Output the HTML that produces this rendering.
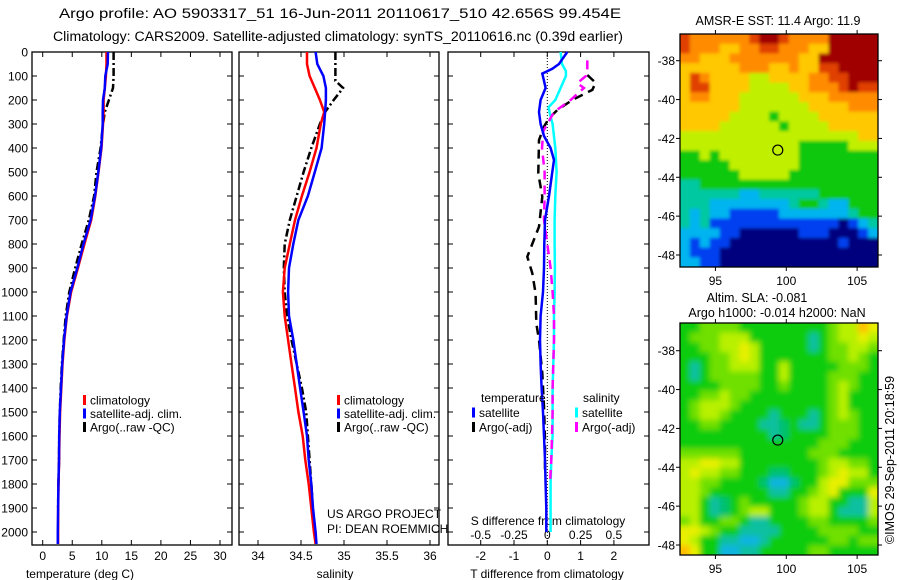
<!DOCTYPE html>
<html><head><meta charset="utf-8"><style>
html,body{margin:0;padding:0;background:#fff;}
svg{display:block;font-family:"Liberation Sans",Arial,sans-serif;}
text{fill:#000;}
</style></head><body>
<svg id="fig" width="900" height="580" viewBox="0 0 900 580" xmlns="http://www.w3.org/2000/svg">
<defs>
<filter id="blurA" x="-5%" y="-5%" width="110%" height="110%"><feGaussianBlur stdDeviation="1.6"/></filter>
<filter id="blurB" x="-5%" y="-5%" width="110%" height="110%"><feGaussianBlur stdDeviation="3"/></filter>
<clipPath id="clipA"><rect x="680" y="34" width="198" height="233"/></clipPath>
<clipPath id="clipB"><rect x="680" y="323" width="198" height="232"/></clipPath>
</defs>
<text x="340" y="18" font-size="13.5" text-anchor="middle" textLength="562" lengthAdjust="spacingAndGlyphs">Argo profile: AO 5903317_51 16-Jun-2011 20110617_510 42.656S 99.454E</text>
<text x="338" y="41" font-size="13.5" text-anchor="middle" textLength="570" lengthAdjust="spacingAndGlyphs">Climatology: CARS2009. Satellite-adjusted climatology: synTS_20110616.nc (0.39d earlier)</text>
<text x="778" y="25" font-size="12.5" text-anchor="middle">AMSR-E SST: 11.4 Argo: 11.9</text>
<text x="757" y="302" font-size="12.5" text-anchor="middle">Altim. SLA: -0.081</text>
<text x="777" y="317" font-size="12.5" text-anchor="middle">Argo h1000: -0.014 h2000: NaN</text>
<text x="0" y="0" font-size="12.5" text-anchor="middle" transform="translate(894,460) rotate(-90)">©IMOS 29-Sep-2011 20:18:59</text>
<text x="80" y="578" font-size="12" text-anchor="middle">temperature (deg C)</text>
<text x="335" y="578" font-size="12" text-anchor="middle">salinity</text>
<text x="547" y="578" font-size="12" text-anchor="middle">T difference from climatology</text>
<text x="548" y="525" font-size="12" text-anchor="middle">S difference from climatology</text>
<text x="327" y="518" font-size="12">US ARGO PROJECT</text>
<text x="327" y="533" font-size="12">PI: DEAN ROEMMICH</text>
</svg>
<script>
// ---- data ----
const depthTicks = [0,100,200,300,400,500,600,700,800,900,1000,1100,1200,1300,1400,1500,1600,1700,1800,1900,2000];
const tempTicks = [0,5,10,15,20,25,30];
const salTicks = [34,34.5,35,35.5,36];
const tDiffTicks = [-2,-1,0,1,2];
const sDiffTicks = [-0.5,-0.25,0,0.25,0.5];
const sDiffTickLabels = ["-0.5","-0.25","0","0.25","0.5"];
const latTicks = [-38,-40,-42,-44,-46,-48];
const lonTicks = [95,100,105];

const climDepth = [0,50,100,150,200,250,300,400,500,600,700,800,900,1000,1100,1200,1300,1400,1500,1600,1700,1800,1900,2000,2050];
const climTemp = [10.8,10.8,10.7,10.5,10.3,10.3,10.2,9.95,9.45,8.9,8.2,7.05,5.95,4.8,4.1,3.65,3.35,3.15,2.95,2.85,2.78,2.68,2.63,2.6,2.6];
const satTemp  = [11.05,11.0,10.6,10.5,10.2,10.15,10.15,9.9,9.4,8.85,8.1,6.9,5.85,4.7,4.05,3.6,3.3,3.1,2.9,2.8,2.75,2.65,2.6,2.55,2.55];
const argoDepth = [0,50,100,150,200,250,300,400,500,600,700,800,900,1000,1100,1200,1300,1400,1500,1600,1700,1800,1900];
const argoTemp = [12.0,12.0,12.0,11.9,11.2,10.5,10.2,9.8,9.1,8.7,7.8,6.6,5.5,4.5,3.9,3.55,3.25,3.05,2.9,2.8,2.75,2.65,2.6];

const climSal = [34.57,34.57,34.6,34.66,34.72,34.77,34.73,34.68,34.6,34.51,34.43,34.37,34.31,34.29,34.31,34.35,34.39,34.43,34.47,34.52,34.55,34.59,34.62,34.65,34.67];
const satSal  = [34.67,34.69,34.76,34.79,34.79,34.78,34.77,34.74,34.66,34.58,34.47,34.41,34.36,34.35,34.36,34.41,34.45,34.49,34.53,34.57,34.59,34.62,34.64,34.67,34.68];
const argoSalDepth = [0,50,120,150,200,250,300,400,500,600,700,800,900,1000,1100,1200,1300,1400,1500,1600,1700,1800,1850];
const argoSal = [34.9,34.9,34.9,34.99,34.88,34.78,34.72,34.62,34.53,34.45,34.37,34.31,34.3,34.31,34.34,34.39,34.45,34.51,34.56,34.58,34.6,34.62,34.63];

const satTDiffDepth = [0,30,50,70,90,120,150,200,250,300,350,400,450,500,600,700,800,900,1000,1100,1200,1300,1400,1500,1600,1700,1800,1900,2000];
const satTDiff = [0.6,0.45,0.35,0.15,-0.15,-0.1,-0.05,-0.2,-0.25,-0.2,-0.1,0.1,0.2,0.15,0.05,-0.07,-0.09,-0.1,-0.13,-0.2,-0.22,-0.2,-0.17,-0.13,-0.1,-0.07,-0.05,-0.03,-0.03];
const argoTDiffDepth = [96,128,158,200,242,276,311,367,506,603,728,853,922,1006,1131,1200,1339,1478,1617,1756];
const argoTDiff = [1.2,1.45,1.35,0.75,0.3,0.05,-0.1,-0.25,-0.27,-0.15,-0.25,-0.6,-0.45,-0.35,-0.33,-0.25,-0.15,-0.1,-0.07,-0.07];
const satSDiffDepth = [0,50,80,100,150,200,230,260,300,400,500,600,700,800,900,1000,1100,1200,1300,1400,1500,1600,1700,1800,1900,2000];
const satSDiff = [0.1,0.11,0.14,0.14,0.1,0.06,0.01,0.02,0.04,0.06,0.07,0.06,0.055,0.055,0.057,0.055,0.05,0.05,0.045,0.04,0.04,0.04,0.03,0.025,0.025,0.025];
const argoSDiffDepth = [35,70,100,130,150,200,250,300,330,400,500,600,700,800,900,1000,1100,1200,1300,1400,1500,1600,1700,1800];
const argoSDiff = [0.3,0.3,0.29,0.225,0.275,0.175,0.05,0,-0.03,-0.04,-0.02,-0.02,-0.025,0,0.025,0.04,0.05,0.05,0.045,0.04,0.04,0.035,0.03,0.02];

const sstGrid = [
"87777778998777799999","87776677887776699999","77666777777766999999","66666677766766889999",
"68766665566667788999","68866665555667778988","67766655555566677777","66666655555556666777",
"66666555545555666666","66665555554555566666","55555555555555555566","55555555555544444555",
"44545555555544444444","44444555555544444444","44444455555444444444","33444444444444444444",
"33333322333333444444","33322222222344322444","32322111112222222344","32311111111111110123",
"22221100000011100012","21211000000000001000","21110000000000000000","22110000000000000000"];
const sstPalette = ["#00007f","#0040f0","#00b4f0","#00c8a0","#10c810","#c0f000","#ffc800","#ff8c00","#e04000","#a00000"];
const slaGrid = [
"33444433333333345576","34445553333331345565","33445565333331344554","33344565333333344543",
"31344555335333334443","31344444335333344433","33334444334333345433","33445443333333345333",
"34555433333333345333","34554333313331345433","33443333112311344433","33333333312333344433",
"33333333333333444333","44444433333334443333","55665533333333455443","56554433322333456553",
"55443333200233566444","55433333311334563336","55312343333345533115","55312345533345531115",
"45334431133334433334","66543311113333444433","65331100133333344344","76330011333334433333"];
const slaPalette = ["#10b4e0","#10c0a0","#00c070","#10cc10","#70e000","#b8f000","#e8f000","#ffc000"];
const argoLon = 99.4, argoLat = -42.6;

// ---- scales ----
const yD = d => 52 + d*0.24;
const xT = t => 42.7 + t*5.91;
const xS = s => 258 + (s-34)*86;
const xDT = v => 547.3 + v*33.3;
const xDS = v => 547.3 + v*133.2;
const mLon = lon => 680 + (lon-92.5)*14.17;
const m1Lat = lat => 60.7 + (-38-lat)*19.43;
const m2Lat = lat => 545 - (lat+48)*19.43;

const NS="http://www.w3.org/2000/svg";
const svg=document.getElementById('fig');
function mk(tag, attrs, parent){const e=document.createElementNS(NS,tag);for(const k in attrs)e.setAttribute(k,attrs[k]);(parent||svg).appendChild(e);return e;}

function series(xf, depths, vals, color, dash, name, w){
  const pts = depths.map((d,i)=>xf(vals[i]).toFixed(1)+','+yD(d).toFixed(1)).join(' ');
  const p = mk('polyline',{points:pts,fill:'none',stroke:color,'stroke-width':w||2.5,'stroke-dasharray':dash||'none','stroke-linejoin':'miter'});
  
  
}

function panel(x0,x1,y0,y1,name){
  const r = mk('rect',{x:x0,y:y0,width:x1-x0,height:y1-y0,fill:'none',stroke:'#000','stroke-width':1.3});
  
  
  depthTicks.forEach(d=>{
    const t1 = mk('line',{x1:x0,x2:x0+5,y1:yD(d),y2:yD(d),stroke:'#000'});
    
    
    const t2 = mk('line',{x1:x1-5,x2:x1,y1:yD(d),y2:yD(d),stroke:'#000'});
    
    
  });
}
function xticks(vals, xf, labels, y0, y1, nameBase, labelY, withTop){
  vals.forEach((v,i)=>{
    const x=xf(v);
    const b = mk('line',{x1:x,x2:x,y1:y1-5,y2:y1,stroke:'#000'});
    
    
    if(withTop){
      const t = mk('line',{x1:x,x2:x,y1:y0,y2:y0+5,stroke:'#000'});
      
      
    }
    const tx = mk('text',{x:x,y:labelY,'font-size':12,'text-anchor':'middle'});
    tx.textContent = labels ? labels[i] : String(v);
    
    
  });
}

// panels
panel(32,232,52,545,'temperature-panel');
panel(239,439,52,545,'salinity-panel');
panel(448,649,52,545,'difference-panel');
depthTicks.forEach(d=>{
  const t = mk('text',{x:28,y:yD(d)+4.5,'font-size':12,'text-anchor':'end'});
  t.textContent = String(d);
  
  
});
xticks(tempTicks, xT, null, 52, 545, 'temperature', 560, true);
xticks(salTicks, xS, null, 52, 545, 'salinity', 560, true);
xticks(tDiffTicks, xDT, null, 52, 545, 't-diff', 560, true);
sDiffTicks.forEach((v,i)=>{
  const tx = mk('text',{x:xDS(v),y:539,'font-size':12,'text-anchor':'middle'});
  tx.textContent = sDiffTickLabels[i];
  
  
});
const zl = mk('line',{x1:xDT(0),x2:xDT(0),y1:52,y2:545,stroke:'#000','stroke-dasharray':'1,2'});



// series
series(xT, argoDepth, argoTemp, '#000', '8,3,2,3', 'argo-temperature-line');
series(xT, climDepth, climTemp, '#ff0000', null, 'climatology-temperature-line');
series(xT, climDepth, satTemp, '#0000ff', null, 'satellite-temperature-line');
series(xS, argoSalDepth, argoSal, '#000', '8,3,2,3', 'argo-salinity-line');
series(xS, climDepth, climSal, '#ff0000', null, 'climatology-salinity-line');
series(xS, climDepth, satSal, '#0000ff', null, 'satellite-salinity-line');
series(xDT, argoTDiffDepth, argoTDiff, '#000', '9,6', 'argo-t-diff-line');
series(xDS, satSDiffDepth, satSDiff, '#00ffff', null, 'satellite-s-diff-line');
series(xDS, argoSDiffDepth, argoSDiff, '#ff00ff', '9,6', 'argo-s-diff-line');
series(xDT, satTDiffDepth, satTDiff, '#0000ff', null, 'satellite-t-diff-line');

// legends
function legend(x, y, color, label, name){
  const r = mk('rect',{x:x,y:y-5,width:3,height:10,fill:color});
  
  
  const t = mk('text',{x:x+7,y:y+4.5,'font-size':12});
  t.textContent = label;
  
  
}
legend(83,400,'#ff0000','climatology','legend-climatology');
legend(83,413.5,'#0000ff','satellite-adj. clim.','legend-satellite');
legend(83,427,'#000','Argo(..raw -QC)','legend-argo');
legend(337,400,'#ff0000','climatology','legend-climatology-sal');
legend(337,413.5,'#0000ff','satellite-adj. clim.','legend-satellite-sal');
legend(337,427,'#000','Argo(..raw -QC)','legend-argo-sal');
const lt = mk('text',{x:481,y:402,'font-size':12}); lt.textContent='temperature';


const ls = mk('text',{x:583,y:402,'font-size':12}); ls.textContent='salinity';


legend(472,412.5,'#0000ff','satellite','legend-t-satellite');
legend(472,427,'#000','Argo(-adj)','legend-t-argo');
legend(575,412.5,'#00ffff','satellite','legend-s-satellite');
legend(575,427,'#ff00ff','Argo(-adj)','legend-s-argo');

// maps
function map(grid, pal, y0, y1, latf, name, clipId, filterId){
  const x0=680, x1=878, rows=grid.length, cols=grid[0].length;
  const cw=(x1-x0)/cols, ch=(y1-y0)/rows;
  const clipG = mk('g',{'clip-path':'url(#'+clipId+')'});
  
  
  const g = mk('g',{filter:'url(#'+filterId+')'}, clipG);
  
  
  grid.forEach((row,r)=>{
    for(let c=0;c<cols;c++){
      let cx=x0+c*cw, cy=y0+r*ch, w=cw+0.6, h=ch+0.6;
      if(c===0){cx-=6;w+=6;} if(c===cols-1){w+=6;}
      if(r===0){cy-=6;h+=6;} if(r===rows-1){h+=6;}
      const cell = mk('rect',{x:cx.toFixed(2),y:cy.toFixed(2),width:w.toFixed(2),height:h.toFixed(2),fill:pal[+row[c]]}, g);
      
      
    }
  });
  const b = mk('rect',{x:x0,y:y0,width:x1-x0,height:y1-y0,fill:'none',stroke:'#000','stroke-width':1.3});
  
  
  latTicks.forEach(l=>{
    const y=latf(l);
    const t1=mk('line',{x1:x0-4,x2:x0,y1:y,y2:y,stroke:'#000'});
    
    
    const t2=mk('line',{x1:x1,x2:x1+4,y1:y,y2:y,stroke:'#000'});
    
    
    const tx=mk('text',{x:x0-5,y:y+4.5,'font-size':12,'text-anchor':'end'});
    tx.textContent=String(l);
    
    
  });
  lonTicks.forEach(l=>{
    const x=mLon(l);
    const t1=mk('line',{x1:x,x2:x,y1:y0-4,y2:y0,stroke:'#000'});
    
    
    const t2=mk('line',{x1:x,x2:x,y1:y1,y2:y1+4,stroke:'#000'});
    
    
    const tx=mk('text',{x:x,y:y1+18,'font-size':12,'text-anchor':'middle'});
    tx.textContent=String(l);
    
    
  });
  const c = mk('ellipse',{cx:mLon(argoLon),cy:latf(argoLat),rx:5,ry:5,fill:'none',stroke:'#000','stroke-width':1.2});
  
  
}
map(sstGrid, sstPalette, 34, 267, m1Lat, 'sst-map', 'clipA', 'blurA');
map(slaGrid, slaPalette, 323, 555, m2Lat, 'sla-map', 'clipB', 'blurB');
</script>
</body></html>
